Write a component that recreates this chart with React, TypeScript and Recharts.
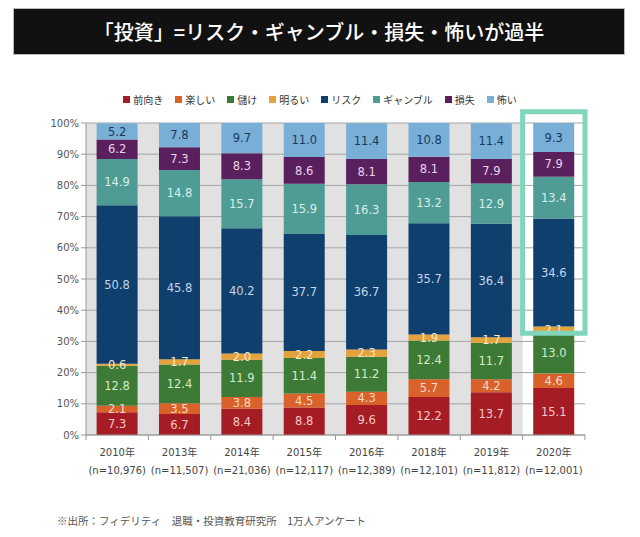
import React from "react";
import {
  BarChart,
  Bar,
  XAxis,
  YAxis,
  CartesianGrid,
  ReferenceArea,
  LabelList,
} from "recharts";

const years = ["2010年", "2013年", "2014年", "2015年", "2016年", "2018年", "2019年", "2020年"];
const samples = [
  "(n=10,976)",
  "(n=11,507)",
  "(n=21,036)",
  "(n=12,117)",
  "(n=12,389)",
  "(n=12,101)",
  "(n=11,812)",
  "(n=12,001)",
];

const maemuki = [7.3, 6.7, 8.4, 8.8, 9.6, 12.2, 13.7, 15.1];
const tanoshii = [2.1, 3.5, 3.8, 4.5, 4.3, 5.7, 4.2, 4.6];
const mouke = [12.8, 12.4, 11.9, 11.4, 11.2, 12.4, 11.7, 13.0];
const akarui = [0.6, 1.7, 2.0, 2.2, 2.3, 1.9, 1.7, 2.1];
const risk = [50.8, 45.8, 40.2, 37.7, 36.7, 35.7, 36.4, 34.6];
const gamble = [14.9, 14.8, 15.7, 15.9, 16.3, 13.2, 12.9, 13.4];
const sonshitsu = [6.2, 7.3, 8.3, 8.6, 8.1, 8.1, 7.9, 7.9];
const kowai = [5.2, 7.8, 9.7, 11.0, 11.4, 10.8, 11.4, 9.3];

const yTicks = [0, 10, 20, 30, 40, 50, 60, 70, 80, 90, 100];

// series: key, legend name, fill, label colour
const series = [
  { key: "maemuki", name: "前向き", values: maemuki, color: "#a51c24", text: "#f3c9c9" },
  { key: "tanoshii", name: "楽しい", values: tanoshii, color: "#d9622b", text: "#f8d9c4" },
  { key: "mouke", name: "儲け", values: mouke, color: "#3d7a35", text: "#d3ebcd" },
  { key: "akarui", name: "明るい", values: akarui, color: "#e3a23c", text: "#fbe9c8" },
  { key: "risk", name: "リスク", values: risk, color: "#0f3f6d", text: "#c6d6ea" },
  { key: "gamble", name: "ギャンブル", values: gamble, color: "#4e9c94", text: "#d8efec" },
  { key: "sonshitsu", name: "損失", values: sonshitsu, color: "#5a1f5d", text: "#ead4ea" },
  { key: "kowai", name: "怖い", values: kowai, color: "#79afd6", text: "#183a5c" },
];

const data = years.map((year, i) => {
  const row: Record<string, string | number> = { year, n: samples[i] };
  series.forEach((s) => {
    row[s.key] = s.values[i];
  });
  return row;
});

const FONT = "'DejaVu Sans', 'Noto Sans CJK JP', sans-serif";
const JP = "'Noto Sans CJK JP', sans-serif";

const YearTick = (props: any) => {
  const { x, y, payload, index } = props;
  const half = payload && payload.offset ? payload.offset : 31;
  return (
    <g>
      <line x1={x - half} x2={x - half} y1={y} y2={y + 5} stroke="#999" />
      {index === years.length - 1 && (
        <line x1={x + half} x2={x + half} y1={y} y2={y + 5} stroke="#999" />
      )}
      <text
        x={x}
        y={y + 21}
        textAnchor="middle"
        fontSize={10}
        fill="#444"
        fontFamily={FONT}
      >
        {payload.value}
      </text>
      <text
        x={x}
        y={y + 39}
        textAnchor="middle"
        fontSize={10}
        fill="#444"
        fontFamily={FONT}
      >
        {samples[index]}
      </text>
    </g>
  );
};

export default function App() {
  return (
    <div
      style={{
        position: "absolute",
        left: 0,
        top: 0,
        width: 640,
        height: 537,
        background: "#fff",
        overflow: "hidden",
      }}
    >
      <div
        style={{
          position: "absolute",
          left: 13,
          top: 8,
          width: 612,
          height: 47,
          background: "#111",
          border: "1px solid #bbb",
          boxSizing: "border-box",
          color: "#fff",
          fontFamily: JP,
          fontSize: 20,
          fontWeight: 500,
          display: "flex",
          alignItems: "center",
          justifyContent: "center",
        }}
      >
        「投資」=リスク・ギャンブル・損失・怖いが過半
      </div>

      <div
        style={{
          position: "absolute",
          left: 0,
          top: 92,
          width: 640,
          display: "flex",
          justifyContent: "center",
          gap: 12,
          fontFamily: JP,
          fontSize: 10,
          color: "#333",
        }}
      >
        {series.map((s) => (
          <span key={s.key} style={{ display: "flex", alignItems: "center" }}>
            <span
              style={{
                display: "inline-block",
                width: 7,
                height: 7,
                background: s.color,
                marginRight: 3,
              }}
            />
            {s.name}
          </span>
        ))}
      </div>

      <div style={{ position: "absolute", left: 0, top: 0 }}>
        <BarChart
          width={640}
          height={537}
          data={data}
          margin={{ top: 123, right: 55, bottom: 57, left: 0 }}
          barCategoryGap="17%"
        >
          <ReferenceArea
            x1="2010年"
            x2="2019年"
            y1={0}
            y2={100}
            fill="#e1e1e1"
            fillOpacity={1}
            stroke="none"
            zIndex={-200}
          />
          <CartesianGrid vertical={false} stroke="#a5a5a5" />
          <XAxis
            dataKey="year"
            tickLine={false}
            tickSize={0}
            tickMargin={0}
            height={45}
            axisLine={{ stroke: "#999" }}
            interval={0}
            tick={<YearTick />}
          />
          <YAxis
            width={86}
            domain={[0, 100]}
            ticks={yTicks}
            allowDataOverflow
            tickFormatter={(v: number) => `${v}%`}
            axisLine={{ stroke: "#999" }}
            tickLine={{ stroke: "#999" }}
            tickSize={5}
            tick={{ fontSize: 10, fill: "#555", fontFamily: FONT }}
          />
          {series.map((s) => (
            <Bar
              key={s.key}
              dataKey={s.key}
              stackId="a"
              fill={s.color}
              isAnimationActive={false}
            >
              <LabelList
                dataKey={s.key}
                position="center"
                fill={s.text}
                fontSize={11.5}
                fontFamily={FONT}
                formatter={(v: any) => Number(v).toFixed(1)}
              />
            </Bar>
          ))}
          <ReferenceArea
            x1="2020年"
            x2="2020年"
            y1={32.6}
            y2={103.6}
            fill="none"
            stroke="#7fd6bd"
            strokeWidth={5}
            ifOverflow="visible"
            zIndex={2500}
          />
        </BarChart>
      </div>

      <div
        style={{
          position: "absolute",
          left: 57,
          top: 513,
          fontFamily: JP,
          fontSize: 10.5,
          color: "#555",
          whiteSpace: "pre",
        }}
      >
        ※出所：フィデリティ　退職・投資教育研究所　1万人アンケート
      </div>
    </div>
  );
}
